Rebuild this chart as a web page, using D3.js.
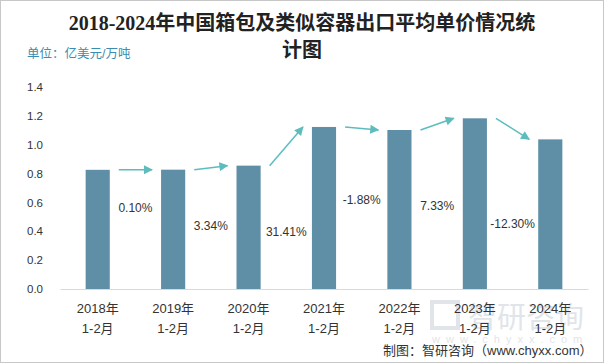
<!DOCTYPE html>
<html>
<head>
<meta charset="utf-8">
<script src="https://cdn.jsdelivr.net/npm/d3@7"></script>
<style>
  body { margin: 0; background: #fff; }
  svg { display: block; }
</style>
</head>
<body>
<div class="vis-chart"></div>
<script>
// data
const categories = ['2018年 1-2月', '2019年 1-2月', '2020年 1-2月', '2021年 1-2月', '2022年 1-2月', '2023年 1-2月', '2024年 1-2月'];
const prices = [0.826, 0.827, 0.855, 1.123, 1.102, 1.183, 1.037];
const growthLabels = ['0.10%', '3.34%', '31.41%', '-1.88%', '7.33%', '-12.30%'];
// height (in axis units) where each growth label sits
const growthLabelPos = [0.56, 0.435, 0.395, 0.615, 0.575, 0.45];
const yTicks = [0, 0.2, 0.4, 0.6, 0.8, 1.0, 1.2, 1.4];

const W = 605, H = 363;
const margin = {top: 87, right: 17, bottom: 74, left: 60};
const barColor = '#5e8fa7';
const arrowColor = '#5dbdbd';
const font = '"Liberation Sans", "Noto Sans CJK SC", sans-serif';

const svg = d3.select('.vis-chart').append('svg')
    .attr('width', W)
    .attr('height', H);

// outer frame
svg.append('rect')
    .attr('x', 0.5).attr('y', 0.5)
    .attr('width', W - 2).attr('height', H - 1)
    .attr('fill', '#fff')
    .attr('stroke', '#c8c8c8');

const x = d3.scaleBand()
    .domain(categories)
    .range([margin.left, W - margin.right])
    .paddingInner(0.68)
    .paddingOuter(0.34);
const y = d3.scaleLinear()
    .domain([0, 1.4])
    .range([H - margin.bottom, margin.top]);

// title
const title = svg.append('text')
    .attr('text-anchor', 'middle')
    .attr('font-family', '"Liberation Serif", "Noto Sans CJK SC", serif')
    .attr('font-weight', 'bold')
    .attr('font-size', 20)
    .attr('fill', '#222');
title.append('tspan').attr('x', 302).attr('y', 30).text('2018-2024年中国箱包及类似容器出口平均单价情况统');
title.append('tspan').attr('x', 302).attr('y', 57).text('计图');

svg.append('text')
    .attr('x', 27).attr('y', 58)
    .attr('font-family', font)
    .attr('font-size', 12.5)
    .attr('fill', '#3a8db0')
    .text('单位：亿美元/万吨');

// watermark
const wm = svg.append('g').attr('opacity', 0.5);
wm.append('text')
    .attr('x', 468).attr('y', 328)
    .attr('font-family', font)
    .attr('font-size', 29)
    .attr('fill', '#c5ccd4')
    .text('智研咨询');
wm.append('text')
    .attr('x', 432).attr('y', 343)
    .attr('font-family', font)
    .attr('font-size', 11)
    .attr('letter-spacing', 6)
    .attr('fill', '#c5ccd4')
    .text('www.chyxx.com');
wm.append('rect')
    .attr('x', 432).attr('y', 302).attr('width', 26).attr('height', 26)
    .attr('fill', 'none').attr('stroke', '#c5ccd4').attr('stroke-width', 4);

// y axis labels
const yAxis = svg.append('g')
    .attr('transform', `translate(${margin.left - 14},0)`)
    .call(d3.axisLeft(y).tickValues(yTicks).tickFormat(d3.format('.1f')).tickSize(0));
yAxis.select('.domain').remove();
yAxis.selectAll('text')
    .attr('font-family', font)
    .attr('font-size', 11.5)
    .attr('fill', '#333');

// bars
svg.selectAll('.bar')
    .data(prices)
    .enter().append('rect')
    .attr('class', 'bar')
    .attr('x', (d, i) => x(categories[i]))
    .attr('width', x.bandwidth())
    .attr('y', d => y(d))
    .attr('height', d => y(0) - y(d))
    .attr('fill', barColor);

// x axis, two-line labels
const xAxis = svg.append('g')
    .attr('transform', `translate(0,${y(0)})`)
    .call(d3.axisBottom(x).tickSize(0).tickFormat(''));
xAxis.select('.domain').attr('stroke', '#d9d9d9').attr('stroke-width', 1.2);
xAxis.selectAll('.tick text').remove();
xAxis.selectAll('.tick').each(function(d) {
    const parts = d.split(' ');
    const g = d3.select(this);
    parts.forEach((p, k) => {
        g.append('text')
            .attr('y', 24 + k * 20)
            .attr('text-anchor', 'middle')
            .attr('font-family', font)
            .attr('font-size', 13)
            .attr('fill', '#333')
            .text(p);
    });
});

// arrows between bars
svg.append('defs').append('marker')
    .attr('id', 'arrowhead')
    .attr('viewBox', '0 0 10 10')
    .attr('refX', 9).attr('refY', 5)
    .attr('markerUnits', 'userSpaceOnUse')
    .attr('markerWidth', 11).attr('markerHeight', 9)
    .attr('orient', 'auto')
    .append('path')
    .attr('d', 'M0,0 L10,5 L0,10 Z')
    .attr('fill', arrowColor);

const pairs = d3.pairs(prices.map((v, i) => ({v, c: categories[i]})));
svg.selectAll('.arrow')
    .data(pairs)
    .enter().append('line')
    .attr('class', 'arrow')
    .attr('x1', d => x(d[0].c) + x.bandwidth() + 9)
    .attr('y1', d => y(d[0].v))
    .attr('x2', d => x(d[1].c) - 9)
    .attr('y2', d => y(d[1].v))
    .attr('stroke', arrowColor)
    .attr('stroke-width', 1.5)
    .attr('marker-end', 'url(#arrowhead)');

// growth labels
svg.selectAll('.growth')
    .data(growthLabels)
    .enter().append('text')
    .attr('class', 'growth')
    .attr('x', (d, i) => (x(categories[i]) + x(categories[i + 1]) + x.bandwidth()) / 2)
    .attr('y', (d, i) => y(growthLabelPos[i]))
    .attr('dy', '0.35em')
    .attr('text-anchor', 'middle')
    .attr('font-family', font)
    .attr('font-size', 12)
    .attr('fill', '#333')
    .text(d => d);

// source
svg.append('text')
    .attr('x', 383).attr('y', 355)
    .attr('font-family', font)
    .attr('font-size', 13)
    .attr('fill', '#333')
    .text('制图：智研咨询（www.chyxx.com）');
</script>
</body>
</html>
